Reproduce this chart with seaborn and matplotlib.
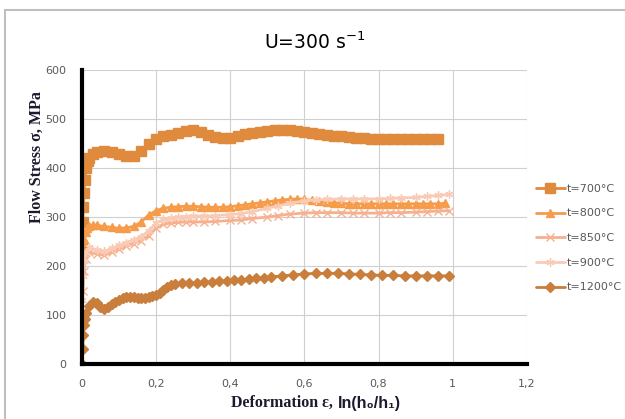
import numpy as np
import pandas as pd
import matplotlib
matplotlib.use("Agg")
import matplotlib.pyplot as plt
import seaborn as sns
from matplotlib.patches import Rectangle

# ---- data ----
x700 = [0.0, 0.002, 0.004, 0.006, 0.008, 0.012, 0.016, 0.02, 0.03, 0.04, 0.06, 0.08, 0.10, 0.12, 0.14,
        0.16, 0.18, 0.20, 0.22, 0.24, 0.26, 0.28, 0.30, 0.32, 0.34, 0.36, 0.38, 0.40, 0.42, 0.44,
        0.46, 0.48, 0.50, 0.52, 0.54, 0.56, 0.58, 0.60, 0.62, 0.64, 0.66, 0.68, 0.70, 0.72, 0.74,
        0.76, 0.78, 0.80, 0.82, 0.84, 0.86, 0.88, 0.90, 0.92, 0.94, 0.96]
y700 = [240, 290, 320, 350, 375, 400, 415, 420, 428, 432, 435, 433, 428, 424, 425,
        435, 450, 460, 466, 468, 471, 476, 478, 474, 468, 463, 461, 461, 465, 469,
        472, 474, 476, 477, 478, 477, 475, 473, 471, 469, 467, 466, 465, 463, 462,
        461, 460, 459, 459, 459, 459, 460, 460, 460, 460, 460]

x800 = [0.0, 0.003, 0.006, 0.01, 0.015, 0.02, 0.03, 0.04, 0.06, 0.08, 0.10, 0.12, 0.14, 0.16,
        0.18, 0.20, 0.22, 0.24, 0.26, 0.28, 0.30, 0.32, 0.34, 0.36, 0.38, 0.40, 0.42, 0.44,
        0.46, 0.48, 0.50, 0.52, 0.54, 0.56, 0.58, 0.60, 0.62, 0.64, 0.66, 0.68, 0.70, 0.72,
        0.74, 0.76, 0.78, 0.80, 0.82, 0.84, 0.86, 0.88, 0.90, 0.92, 0.94, 0.96, 0.98]
y800 = [190, 230, 255, 270, 278, 282, 284, 283, 281, 279, 277, 278, 281, 290,
        304, 313, 318, 320, 321, 322, 322, 321, 320, 320, 320, 321, 323, 325,
        327, 329, 331, 333, 335, 336, 337, 336, 334, 332, 330, 329, 328, 327,
        327, 327, 327, 327, 327, 327, 327, 327, 327, 327, 327, 327, 328]

x850 = [0.0, 0.003, 0.006, 0.01, 0.02, 0.04, 0.06, 0.08, 0.10, 0.12, 0.14, 0.16, 0.18, 0.20,
        0.22, 0.24, 0.26, 0.28, 0.30, 0.33, 0.36, 0.40, 0.43, 0.46, 0.50, 0.53, 0.56, 0.60,
        0.63, 0.66, 0.70, 0.73, 0.76, 0.80, 0.83, 0.86, 0.90, 0.93, 0.96, 0.99]
y850 = [100, 150, 190, 215, 228, 225, 222, 228, 235, 240, 246, 252, 262, 278,
        285, 288, 289, 290, 290, 290, 291, 293, 294, 297, 300, 303, 306, 308,
        309, 309, 309, 308, 308, 308, 309, 309, 310, 311, 312, 313]

x900 = [0.0, 0.003, 0.006, 0.01, 0.02, 0.04, 0.06, 0.08, 0.10, 0.12, 0.14, 0.16, 0.18, 0.20,
        0.22, 0.24, 0.26, 0.28, 0.30, 0.33, 0.36, 0.40, 0.43, 0.46, 0.50, 0.53, 0.56, 0.60,
        0.63, 0.66, 0.70, 0.73, 0.76, 0.80, 0.83, 0.86, 0.90, 0.93, 0.96, 0.99]
y900 = [130, 180, 210, 228, 238, 233, 230, 236, 242, 248, 254, 260, 272, 288,
        295, 298, 300, 301, 302, 302, 303, 305, 307, 311, 318, 323, 328, 333,
        335, 336, 337, 337, 337, 337, 338, 339, 340, 342, 344, 346]

x1200 = [0.0, 0.002, 0.004, 0.006, 0.008, 0.012, 0.02, 0.03, 0.04, 0.05, 0.06, 0.07, 0.08, 0.09,
         0.10, 0.11, 0.12, 0.13, 0.14, 0.15, 0.16, 0.17, 0.18, 0.19, 0.20, 0.21, 0.22, 0.23,
         0.24, 0.25, 0.27, 0.29, 0.31, 0.33, 0.35, 0.37, 0.39, 0.41, 0.43, 0.45, 0.47, 0.49,
         0.51, 0.54, 0.57, 0.60, 0.63, 0.66, 0.69, 0.72, 0.75, 0.78, 0.81, 0.84, 0.87, 0.90,
         0.93, 0.96, 0.99]
y1200 = [0, 30, 60, 80, 92, 105, 118, 127, 124, 117, 113, 116, 122, 127,
         131, 134, 136, 137, 136, 135, 134, 134, 136, 138, 141, 146, 152, 158,
         162, 164, 165, 165, 166, 167, 168, 169, 170, 171, 172, 173, 175, 176,
         178, 180, 182, 184, 185, 185, 185, 184, 183, 182, 181, 181, 180, 180,
         180, 180, 180]

labels = ["t=700°C", "t=800°C", "t=850°C", "t=900°C", "t=1200°C"]
xticks = [0, 0.2, 0.4, 0.6, 0.8, 1.0, 1.2]
xticklabels = ["0", "0,2", "0,4", "0,6", "0,8", "1", "1,2"]
yticks = [0, 100, 200, 300, 400, 500, 600]

series = [(x700, y700), (x800, y800), (x850, y850), (x900, y900), (x1200, y1200)]
colors = ["#e08a3e", "#f59b4a", "#f6b08f", "#f9cbb5", "#c97e3c"]
markers = ["s", "^", "x", (6, 2, 0), "D"]
msizes = [7, 6, 6, 6, 5.5]

sns.set_style("white")
fig = plt.figure(figsize=(6.25, 4.19), dpi=100)
ax = fig.add_axes([0.131, 0.131, 0.712, 0.702])

for (xs, ys), lab, c, m, ms in zip(series, labels, colors, markers, msizes):
    df = pd.DataFrame({"x": xs, "y": ys})
    sns.lineplot(data=df, x="x", y="y", ax=ax, color=c, marker=m, markersize=ms,
                 markeredgecolor=c, markeredgewidth=1.0, linewidth=2, label=lab)

ax.set_xlim(0, 1.2)
ax.set_ylim(0, 600)
ax.set_xticks(xticks)
ax.set_xticklabels(xticklabels)
ax.set_yticks(yticks)
ax.grid(True, color="#d0d0d0", linewidth=0.8)
ax.set_axisbelow(True)
for s in ["top", "right"]:
    ax.spines[s].set_visible(False)
for s in ["left", "bottom"]:
    ax.spines[s].set_color("black")
    ax.spines[s].set_linewidth(3)
ax.tick_params(axis="both", labelsize=8, labelcolor="#595959", length=3, width=1.5,
               color="black", direction="out", pad=8)

ax.set_xlabel("")
ax.set_ylabel("")
serif = ["Liberation Serif", "DejaVu Serif"]
sans = ["Liberation Sans", "DejaVu Sans"]
fig.text(0.533, 0.038, "Deformation ε,", ha="right", va="center",
         fontsize=11.5, fontweight="bold", color="#1a1a2e", family=serif)
fig.text(0.540, 0.038, "ln(h₀/h₁)", ha="left", va="center",
         fontsize=11.5, fontweight="bold", color="#1a1a2e", family=sans)
fig.text(0.059, 0.625, "Flow Stress σ, MPa", rotation=90, ha="center", va="center",
         fontsize=11.5, fontweight="bold", color="#1a1a2e", family=serif)
fig.text(0.503, 0.9, "U=300 s$^{-1}$", ha="center", va="center", fontsize=13.5, color="black")

ax.legend_.remove()
handles, labs = ax.get_legend_handles_labels()
fig.legend(handles, labs, loc="upper left", bbox_to_anchor=(0.85, 0.572), frameon=False,
           fontsize=8, labelcolor="#595959", handlelength=2.6, handletextpad=0.2,
           labelspacing=1.32, borderaxespad=0)

fig.patches.append(Rectangle((0.008, -0.1), 1.2, 1.0 - 10 / 419 + 0.1, transform=fig.transFigure,
                             fill=False, edgecolor="#bfbfbf", linewidth=1.5))

fig.savefig("out.png", dpi=100)
